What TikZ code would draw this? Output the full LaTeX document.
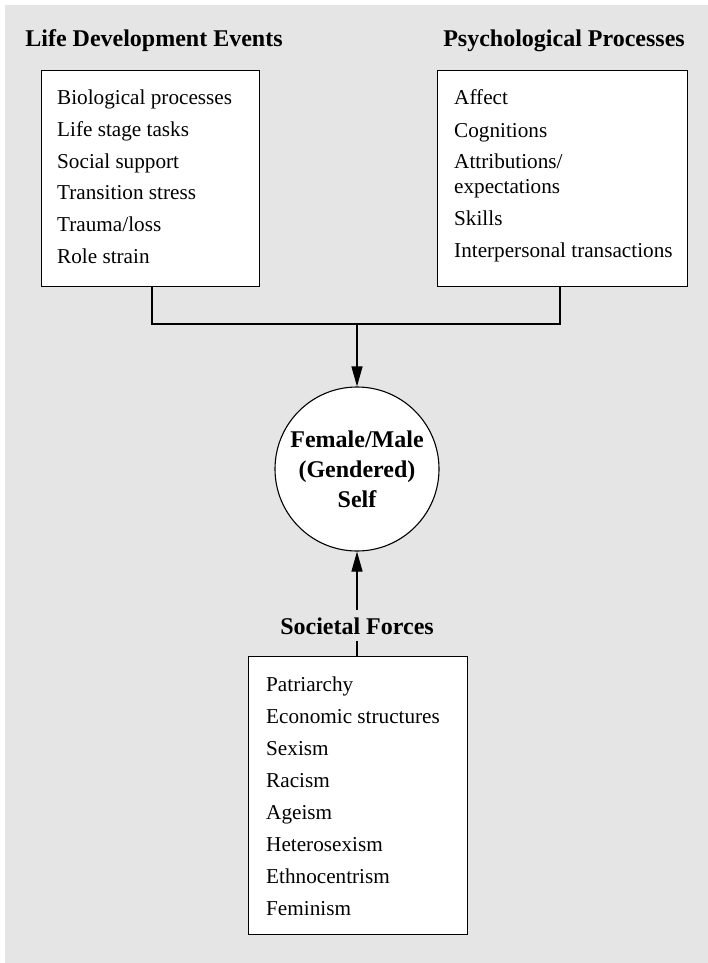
\documentclass[tikz,border=0pt]{standalone}
\usepackage{fontspec}
\setmainfont{Liberation Serif}
\usetikzlibrary{arrows.meta}
\definecolor{bggray}{HTML}{E5E5E5}
\tikzset{
  box/.style={draw=black, fill=white, line width=1.1pt, rectangle, inner sep=0pt, anchor=north west},
  item/.style={inner sep=0pt, anchor=base west, font=\fontsize{21.2}{25}\selectfont},
  header/.style={inner sep=0pt, anchor=base, font=\fontsize{24}{30}\selectfont\bfseries},
  conn/.style={line width=1.1pt, draw=black},
  arr/.style={conn, -{Triangle[length=20pt,width=11pt]}},
}
\begin{document}
\begin{tikzpicture}[x=1pt,y=-1pt]
\useasboundingbox (0,0) rectangle (708,963);
\fill[bggray] (5,5) rectangle (708,963);

% headers
\node[header] (hlde) at (154,47) {Life Development Events};
\node[header] (hpp) at (564,47) {Psychological Processes};

% boxes
\node[box, minimum width=218.5pt, minimum height=215.5pt] (lde) at (40.5,70) {};
\node[box, minimum width=250pt, minimum height=215.5pt] (pp) at (437,70) {};
\node[box, minimum width=219pt, minimum height=278pt] (sfbox) at (248,656) {};

% left items
\node[item] (l1) at (57,105) {Biological processes};
\node[item] (l2) at (57,136.6) {Life stage tasks};
\node[item] (l3) at (57,168.2) {Social support};
\node[item] (l4) at (57,199.8) {Transition stress};
\node[item] (l5) at (57,231.4) {Trauma/loss};
\node[item] (l6) at (57,263) {Role strain};

% right items
\node[item] (r1) at (454,105) {Affect};
\node[item] (r2) at (454,137) {Cognitions};
\node[item] (r3) at (454,168) {Attributions/};
\node[item] (r3b) at (454,193) {expectations};
\node[item] (r4) at (454,225) {Skills};
\node[item] (r5) at (454,257) {Interpersonal transactions};

% bottom items
\node[item] (b1) at (266,691.7) {Patriarchy};
\node[item] (b2) at (266,723.7) {Economic structures};
\node[item] (b3) at (266,755.7) {Sexism};
\node[item] (b4) at (266,787.7) {Racism};
\node[item] (b5) at (266,819.7) {Ageism};
\node[item] (b6) at (266,851.7) {Heterosexism};
\node[item] (b7) at (266,883.7) {Ethnocentrism};
\node[item] (b8) at (266,915.7) {Feminism};

% central circle
\node[circle, draw=black, fill=white, line width=1.1pt, minimum size=164pt, inner sep=0pt,
      align=center, font=\fontsize{24}{30}\selectfont\bfseries] (self) at (357,469)
      {Female/Male\\(Gendered)\\Self};

% societal forces label
\node[inner sep=0pt, font=\fontsize{24}{30}\selectfont\bfseries, anchor=base] (sf) at (357,634) {Societal Forces};
\coordinate (sftop) at (357,610);
\coordinate (sfbot) at (357,641);

% connectors
\coordinate (jl) at (152,324);
\coordinate (jr) at (560,324);
\coordinate (jm) at (357,324);
\draw[conn] (lde.south -| jl) -- (jl) -- (jr) -- (pp.south -| jr);
\draw[arr] (jm) -- (self.north);
\draw[arr] (sftop) -- (self.south);
\draw[conn] (sfbox.north -| sfbot) -- (sfbot);
\end{tikzpicture}
\end{document}
